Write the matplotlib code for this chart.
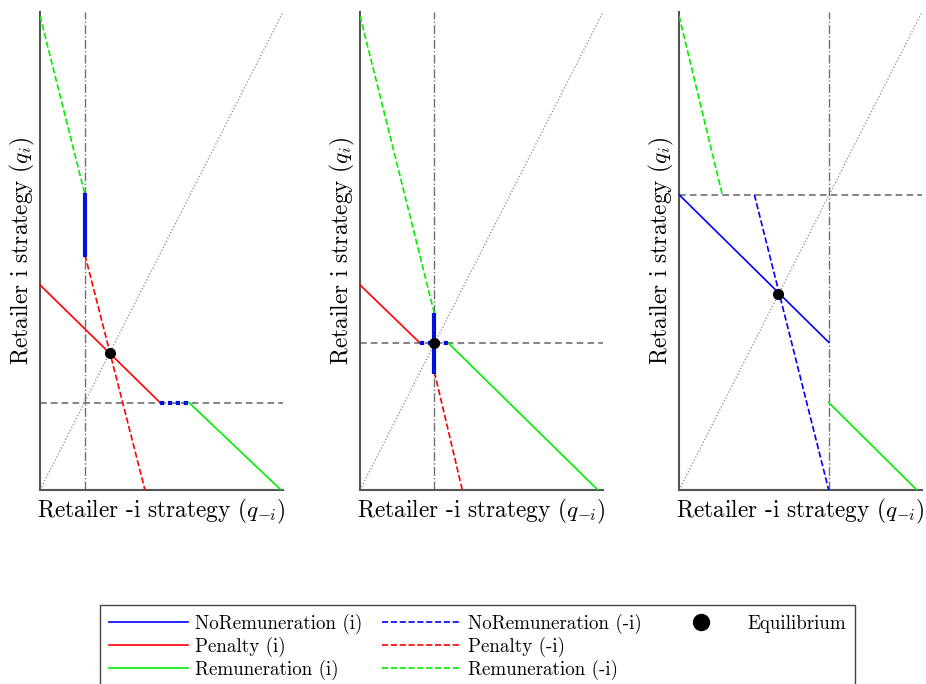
import matplotlib
matplotlib.use('Agg')
import matplotlib.pyplot as plt
from matplotlib.lines import Line2D

plt.rcParams['font.family'] = 'serif'
plt.rcParams['font.serif'] = ['cmr10', 'DejaVu Serif']
plt.rcParams['mathtext.fontset'] = 'cm'
plt.rcParams['axes.unicode_minus'] = False

# reference lines per panel (data units, axes span 0..1)
vline_x = [0.185, 0.306, 0.616]
hline_y = [0.183, 0.307, 0.618]

# Remuneration
rem_i_x = [[0.613, 0.992], [0.364, 0.979], [0.616, 0.979]]
rem_i_y = [[0.183, 0.0], [0.307, 0.0], [0.183, 0.0]]
rem_mi_x = [[0.0, 0.185], [0.0, 0.306], [0.0, 0.178]]
rem_mi_y = [[0.992, 0.618], [0.992, 0.369], [0.992, 0.618]]
# Penalty (not present in third panel)
pen_i_x = [[0.0, 0.494], [0.0, 0.248], []]
pen_i_y = [[0.429, 0.183], [0.429, 0.307], []]
pen_mi_x = [[0.185, 0.432], [0.306, 0.421], []]
pen_mi_y = [[0.492, 0.0], [0.247, 0.0], []]
# NoRemuneration
nor_i_x = [[0.494, 0.613], [0.248, 0.364], [0.0, 0.616]]
nor_i_y = [[0.183, 0.183], [0.307, 0.307], [0.618, 0.309]]
nor_mi_x = [[0.185, 0.185], [0.306, 0.306], [0.31, 0.616]]
nor_mi_y = [[0.618, 0.492], [0.367, 0.247], [0.618, 0.0]]
# equilibrium points
eq_x = [0.288, 0.306, 0.409]
eq_y = [0.286, 0.307, 0.411]
# thick (degenerate) NoRemuneration segments in first two panels
thick = [True, True, False]

fig = plt.figure(figsize=(9.26, 6.84), dpi=100)
lefts = [0.0432, 0.3888, 0.7333]
gcol = '#707070'

for k in range(3):
    ax = fig.add_axes([lefts[k], 0.2836, 0.2624, 0.6988])
    ax.set_xlim(0, 1)
    ax.set_ylim(0, 1)
    ax.plot([0, 1], [0, 1], ':', color='#888888', lw=0.9, zorder=1)
    ax.axvline(vline_x[k], color=gcol, ls='-.', lw=1.0, zorder=2)
    ax.axhline(hline_y[k], color=gcol, ls=(0, (4, 2.5)), lw=1.2, zorder=2)

    ax.plot(rem_i_x[k], rem_i_y[k], color='#00ee00', lw=1.2, zorder=3)
    ax.plot(rem_mi_x[k], rem_mi_y[k], color='#00ee00', ls='--', lw=1.2, zorder=3)
    if pen_i_x[k]:
        ax.plot(pen_i_x[k], pen_i_y[k], color='red', lw=1.2, zorder=3)
        ax.plot(pen_mi_x[k], pen_mi_y[k], color='red', ls='--', lw=1.2, zorder=3)
    if thick[k]:
        ax.plot(nor_i_x[k], nor_i_y[k], color='#0010dd', ls=(0, (1, 0.9)), lw=3, zorder=4)
        ax.plot(nor_mi_x[k], nor_mi_y[k], color='#0010dd', lw=3, zorder=4)
    else:
        ax.plot(nor_i_x[k], nor_i_y[k], color='blue', lw=1.2, zorder=3)
        ax.plot(nor_mi_x[k], nor_mi_y[k], color='blue', ls='--', lw=1.2, zorder=3)
    ax.plot(eq_x[k], eq_y[k], 'o', color='black', ms=7, zorder=5)

    for s in ['top', 'right']:
        ax.spines[s].set_visible(False)
    for s in ['left', 'bottom']:
        ax.spines[s].set_color('#555555')
        ax.spines[s].set_linewidth(1.5)
    ax.set_xticks([])
    ax.set_yticks([])
    ax.set_xlabel(r'Retailer -i strategy ($q_{-i}$)', fontsize=16.8, labelpad=5)
    ax.set_ylabel(r'Retailer i strategy ($q_i$)', fontsize=16.8, labelpad=2)

handles = [
    Line2D([], [], color='blue', lw=1.2),
    Line2D([], [], color='red', lw=1.2),
    Line2D([], [], color='#00ee00', lw=1.2),
    Line2D([], [], color='blue', ls='--', lw=1.2),
    Line2D([], [], color='red', ls='--', lw=1.2),
    Line2D([], [], color='#00ee00', ls='--', lw=1.2),
    Line2D([], [], color='black', marker='o', ls='none', ms=11.5),
    Line2D([], [], color='none'),
    Line2D([], [], color='none'),
]
labels = ['NoRemuneration (i)', 'Penalty (i)', 'Remuneration (i)',
          'NoRemuneration (-i)', 'Penalty (-i)', 'Remuneration (-i)',
          'Equilibrium', '', '']
leg = fig.legend(handles, labels, ncol=3, loc='upper center',
                 bbox_to_anchor=(0.5157, 0.1155), fontsize=13.7,
                 handlelength=4.15, handletextpad=0.4, columnspacing=1.0,
                 labelspacing=0.16, borderpad=0.45, borderaxespad=0,
                 fancybox=False, edgecolor='#444444', framealpha=1)
leg.get_frame().set_linewidth(1.0)

fig.savefig('out.png', dpi=100)
